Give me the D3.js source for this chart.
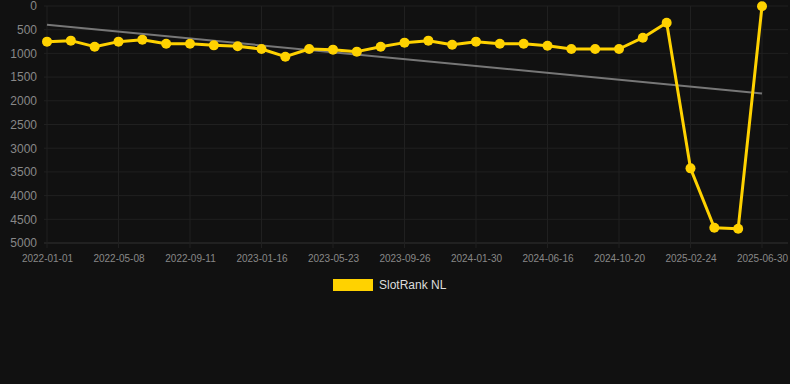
<!DOCTYPE html>
<html>
<head>
<meta charset="utf-8">
<script src="https://cdn.jsdelivr.net/npm/d3@7"></script>
<style>
  body { margin: 0; background: #111111; }
  svg { display: block; font-family: "Liberation Sans", Arial, sans-serif; }
</style>
</head>
<body>
<svg id="chart" width="790" height="384"></svg>
<script>
// Page Variables
let width = 790, height = 384;
let padding = {top: 6, bottom: 141, left: 44, right: 2};

// dates of every point (only every 3rd is labelled)
let dates = [
  "2022-01-01", "2022-02-12", "2022-03-26", "2022-05-08", "2022-06-19", "2022-07-31",
  "2022-09-11", "2022-10-23", "2022-12-04", "2023-01-16", "2023-02-27", "2023-04-10",
  "2023-05-23", "2023-07-04", "2023-08-15", "2023-09-26", "2023-11-07", "2023-12-19",
  "2024-01-30", "2024-03-12", "2024-04-24", "2024-06-16", "2024-07-28", "2024-09-08",
  "2024-10-20", "2024-12-01", "2025-01-12", "2025-02-24", "2025-04-07", "2025-05-19",
  "2025-06-30"
];

// rank values
let ranks = [
  752, 731, 858, 752, 710, 795, 795, 830, 851, 907, 1069, 907, 921, 963, 858, 773,
  731, 816, 752, 795, 795, 837, 907, 907, 907, 668, 352, 3425, 4677, 4698, 5
];

let yTicks = [0, 500, 1000, 1500, 2000, 2500, 3000, 3500, 4000, 4500, 5000];
let seriesName = "SlotRank NL";
let yellow = "#ffd200";

let svg = d3.select("#chart");

let xScale = d3.scalePoint()
  .domain(dates)
  .range([47, 762]);

let yScale = d3.scaleLinear()
  .domain([0, 5000])
  .range([padding.top, height - padding.bottom - 0]);

// y = 5000 sits on the bottom axis line (243)
yScale.range([6, 243]);

// grid
svg.append("g")
  .selectAll("line")
  .data(yTicks)
  .enter().append("line")
  .attr("x1", padding.left).attr("x2", width - padding.right)
  .attr("y1", d => yScale(d)).attr("y2", d => yScale(d))
  .attr("stroke", d => d === 5000 ? "#333" : "#202020")
  .attr("stroke-width", 1);

let labelled = dates.filter((d, i) => i % 3 === 0);

svg.append("g")
  .selectAll("line")
  .data(labelled)
  .enter().append("line")
  .attr("x1", d => xScale(d)).attr("x2", d => xScale(d))
  .attr("y1", padding.top).attr("y2", 248)
  .attr("stroke", "#202020")
  .attr("stroke-width", 1);

// y axis labels
let yAxis = svg.append("g")
  .attr("transform", "translate(37,0)")
  .call(d3.axisLeft(yScale).tickValues(yTicks).tickSize(0).tickPadding(0).tickFormat(d3.format("")));
yAxis.select(".domain").remove();
yAxis.selectAll("text")
  .attr("fill", "#888")
  .style("font-size", "12px");

// x axis labels
let xAxis = svg.append("g")
  .attr("transform", "translate(0,253)")
  .call(d3.axisBottom(xScale).tickValues(labelled).tickSize(0).tickPadding(0));
xAxis.select(".domain").remove();
xAxis.selectAll("text")
  .attr("fill", "#888")
  .attr("dy", "0.32em")
  .attr("y", 6)
  .style("font-size", "10px");

// trend line (least squares over the points)
let n = ranks.length;
let xs = d3.range(n);
let mx = d3.mean(xs), my = d3.mean(ranks);
let slope = d3.sum(xs, i => (i - mx) * (ranks[i] - my)) / d3.sum(xs, i => (i - mx) * (i - mx));
let icpt = my - slope * mx;

svg.append("line")
  .attr("x1", xScale(dates[0])).attr("y1", yScale(icpt))
  .attr("x2", xScale(dates[n - 1])).attr("y2", yScale(icpt + slope * (n - 1)))
  .attr("stroke", "#777")
  .attr("stroke-width", 2);

// series line
let line = d3.line()
  .x((d, i) => xScale(dates[i]))
  .y(d => yScale(d));

svg.append("path")
  .datum(ranks)
  .attr("d", line)
  .attr("fill", "none")
  .attr("stroke", yellow)
  .attr("stroke-width", 3)
  .attr("stroke-linejoin", "round");

svg.append("g")
  .selectAll("circle")
  .data(ranks)
  .enter().append("circle")
  .attr("cx", (d, i) => xScale(dates[i]))
  .attr("cy", d => yScale(d))
  .attr("r", 5)
  .attr("fill", yellow);

// legend
let legend = svg.append("g").attr("transform", "translate(333,279)");
legend.append("rect")
  .attr("width", 40).attr("height", 12)
  .attr("fill", yellow);
legend.append("text")
  .attr("x", 46).attr("y", 6)
  .attr("dy", "0.35em")
  .attr("fill", "#ddd")
  .style("font-size", "12px")
  .text(seriesName);
</script>
</body>
</html>
